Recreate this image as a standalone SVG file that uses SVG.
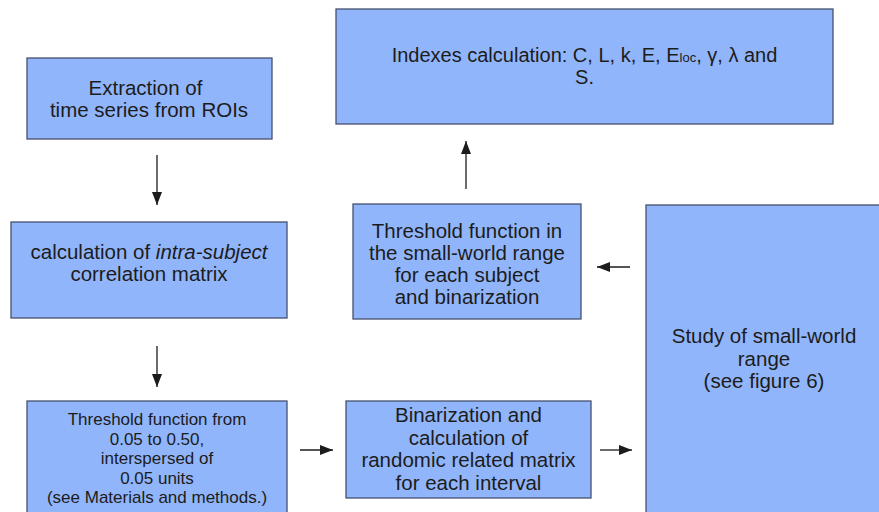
<svg xmlns="http://www.w3.org/2000/svg" width="879" height="512" viewBox="0 0 879 512">
<style>
.box{fill:#91b5fa;stroke:#46516e;stroke-width:1.3}
.t{font-family:"Liberation Sans",Arial,sans-serif;font-size:20.5px;fill:#1c1c1c;text-anchor:middle}
.s{font-size:17px}
.i{font-size:20px}
.c{stroke:#1c1c1c;stroke-width:1.3;fill:none;marker-end:url(#ah)}
</style>
<defs>
<marker id="ah" markerUnits="userSpaceOnUse" markerWidth="13" markerHeight="11" refX="13" refY="5" orient="auto">
<path d="M0,0 L13,5 L0,10 z" fill="#1c1c1c"/>
</marker>
</defs>
<rect width="879" height="512" fill="#ffffff"/>
<g id="n-indexes">
<rect class="box" x="336" y="9" width="497" height="115"/>
<text class="t i" x="584.5" y="62">Indexes calculation: C, L, k, E, E<tspan font-size="13">loc</tspan>, γ, λ and</text>
<text class="t i" x="584.5" y="84">S.</text>
</g>
<g id="n-extraction">
<rect class="box" x="27" y="58" width="245" height="81"/>
<text class="t" x="145.5" y="95">Extraction of</text>
<text class="t" x="149" y="117">time series from ROIs</text>
</g>
<g id="n-correlation">
<rect class="box" x="11" y="222" width="276" height="96"/>
<text class="t" x="149" y="259">calculation of <tspan font-style="italic">intra-subject</tspan></text>
<text class="t" x="149" y="281">correlation matrix</text>
</g>
<g id="n-threshold-range">
<rect class="box" x="27" y="401" width="260" height="120"/>
<text class="t s" x="157" y="425">Threshold function from</text>
<text class="t s" x="157" y="444.5">0.05 to 0.50,</text>
<text class="t s" x="157" y="464">interspersed of</text>
<text class="t s" x="157" y="483.5">0.05 units</text>
<text class="t s" x="157" y="503">(see Materials and methods.)</text>
</g>
<g id="n-binarization">
<rect class="box" x="346" y="401" width="245" height="97"/>
<text class="t" x="468.5" y="422">Binarization and</text>
<text class="t" x="468.5" y="444.5">calculation of</text>
<text class="t" x="468.5" y="467">randomic related matrix</text>
<text class="t" x="468.5" y="489.5">for each interval</text>
</g>
<g id="n-threshold-sw">
<rect class="box" x="353" y="204" width="228" height="115"/>
<text class="t" x="467" y="238">Threshold function in</text>
<text class="t" x="467" y="260">the small-world range</text>
<text class="t" x="467" y="282">for each subject</text>
<text class="t" x="467" y="304">and binarization</text>
</g>
<g id="n-study">
<rect class="box" x="646" y="205" width="236" height="320"/>
<text class="t" x="764" y="343">Study of small-world</text>
<text class="t" x="764" y="365.5">range</text>
<text class="t" x="764" y="388">(see figure 6)</text>
</g>
<g id="connectors">
<line class="c" x1="157" y1="155" x2="157" y2="205"/>
<line class="c" x1="157" y1="346" x2="157" y2="387"/>
<line class="c" x1="300" y1="450" x2="333" y2="450"/>
<line class="c" x1="600" y1="450" x2="632" y2="450"/>
<line class="c" x1="630" y1="267" x2="597" y2="267"/>
<line class="c" x1="466" y1="189" x2="466" y2="141"/>
</g>
</svg>
